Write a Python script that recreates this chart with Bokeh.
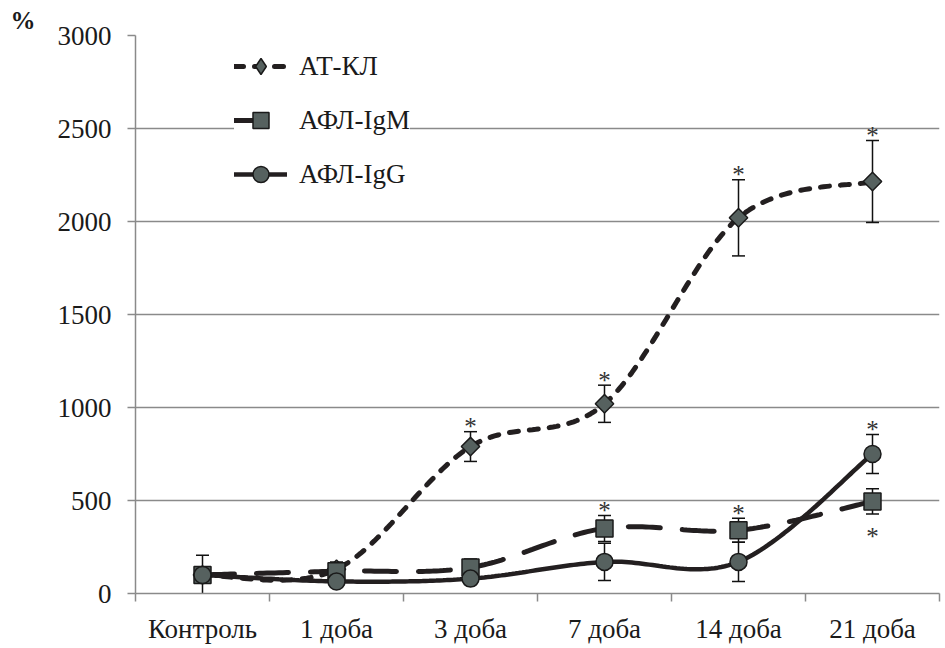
import numpy as np
from bokeh.plotting import figure
from bokeh.models import (Range1d, FixedTicker, ColumnDataSource, Legend, LegendItem)
from bokeh.core.properties import value
from bokeh.embed import file_html
from bokeh.resources import INLINE

categories = ["Контроль", "1 доба", "3 доба", "7 доба", "14 доба", "21 доба"]
at_kl = [100, 130, 790, 1020, 2020, 2215]
at_kl_err = [105, 30, 80, 100, 205, 220]
igm = [100, 120, 140, 350, 340, 495]
igm_err = [40, 50, 45, 70, 65, 68]
igg = [100, 65, 80, 170, 170, 750]
igg_err = [40, 20, 30, 100, 105, 105]
# significance stars: (category index, "above"/"below")
stars_at_kl = [(2, "above"), (3, "above"), (4, "above"), (5, "above")]
stars_igm = [(3, "above"), (4, "above"), (5, "below")]
stars_igg = [(5, "above")]
y_ticks = [0, 500, 1000, 1500, 2000, 2500, 3000]

FONT = "Liberation Serif"
LINE = "#231f20"
FILL = "#56615f"
AXIS = "#8a8a8a"
FS = "27px"

xs = [i + 0.5 for i in range(len(categories))]


def smooth(xv, yv, n=40):
    pts = np.column_stack([xv, yv]).astype(float)
    ext = np.vstack([pts[0], pts, pts[-1]])
    out = []
    for i in range(len(pts) - 1):
        p0, p1, p2, p3 = ext[i], ext[i + 1], ext[i + 2], ext[i + 3]
        c1 = p1 + (p2 - p0) / 6.0
        c2 = p2 - (p3 - p1) / 6.0
        t = np.linspace(0, 1, n)[:, None]
        seg = ((1 - t) ** 3) * p1 + 3 * ((1 - t) ** 2) * t * c1 + 3 * (1 - t) * t ** 2 * c2 + t ** 3 * p2
        out.append(seg if i == 0 else seg[1:])
    a = np.vstack(out)
    return a[:, 0], a[:, 1]


p = figure(width=941, height=646, output_backend="svg", toolbar_location=None,
           x_range=Range1d(0, 6), y_range=Range1d(0, 3000),
           min_border_left=135, min_border_right=2, min_border_top=35, min_border_bottom=51,
           title="%")
p.title.text_font = FONT
p.title.text_font_size = "25px"
p.title.text_font_style = "bold"
p.title.text_color = "#1a1a1a"
p.title.align = "left"
p.title.offset = -125
p.title.standoff = 3
p.outline_line_color = None
p.background_fill_color = "white"
p.xgrid.grid_line_color = None
p.ygrid.grid_line_color = AXIS
p.ygrid.grid_line_width = 1.5

p.xaxis.ticker = FixedTicker(ticks=xs, minor_ticks=list(range(len(categories) + 1)))
p.xaxis.major_label_overrides = {x: c for x, c in zip(xs, categories)}
p.xaxis.major_tick_line_color = None
p.xaxis.major_tick_in = 0
p.xaxis.major_tick_out = 8
p.xaxis.minor_tick_line_color = AXIS
p.xaxis.minor_tick_line_width = 1.5
p.xaxis.minor_tick_in = 0
p.xaxis.minor_tick_out = 8
p.xaxis.major_label_standoff = 12

p.yaxis.ticker = FixedTicker(ticks=y_ticks)
p.yaxis.minor_tick_line_color = None
p.yaxis.major_tick_line_color = AXIS
p.yaxis.major_tick_line_width = 1.5
p.yaxis.major_tick_in = 0
p.yaxis.major_tick_out = 8
p.yaxis.major_label_standoff = 16

for ax in (p.xaxis, p.yaxis):
    ax.axis_line_color = AXIS
    ax.axis_line_width = 1.5
    ax.major_label_text_font = FONT
    ax.major_label_text_font_size = FS
    ax.major_label_text_color = "#1a1a1a"

series = [
    ("АТ-КЛ", at_kl, at_kl_err, "9 11", 5, "square", 13, np.pi / 4, stars_at_kl),
    ("АФЛ-IgM", igm, igm_err, "32 22", 5, "square", 17, 0, stars_igm),
    ("АФЛ-IgG", igg, igg_err, "solid", 4.5, "circle", 17, 0, stars_igg),
]

line_rs = []
for name, vals, errs, dash, lw, marker, size, ang, stars in series:
    sx, sy = smooth(xs, vals)
    lr = p.line(sx, sy, line_color=LINE, line_width=lw, line_dash=dash, line_cap="round")
    line_rs.append(lr)

for name, vals, errs, dash, lw, marker, size, ang, stars in series:
    up = [v + e for v, e in zip(vals, errs)]
    lo = [v - e for v, e in zip(vals, errs)]
    p.segment(xs, lo, xs, up, line_color="#111111", line_width=1.5)
    p.scatter(xs + xs, up + lo, marker="dash", size=13, line_color="#111111", line_width=1.5)

items = []
for (name, vals, errs, dash, lw, marker, size, ang, stars), lr in zip(series, line_rs):
    sr = p.scatter(xs, vals, marker=marker, size=size, angle=ang, fill_color=FILL,
                   line_color="#1a1a1a", line_width=1.5)
    if ang:
        # legend-only diamond symbol (legend glyphs are never rotated); not drawn in plot
        leg_sym = p.scatter([np.nan], [np.nan], marker="diamond", size=size, fill_color=FILL,
                            line_color="#1a1a1a", line_width=1.5)
        items.append(LegendItem(label=name, renderers=[lr, leg_sym]))
    else:
        items.append(LegendItem(label=name, renderers=[lr, sr]))
    sx_ = [xs[i] for i, pos in stars]
    sy_ = [vals[i] + errs[i] if pos == "above" else vals[i] - errs[i] for i, pos in stars]
    off = [-5 if pos == "above" else 22 for i, pos in stars]
    src = ColumnDataSource(dict(x=sx_, y=sy_, off=off, t=["*"] * len(sx_)))
    p.text(x="x", y="y", text="t", y_offset="off", source=src, text_font=value(FONT),
           text_font_size="25px", text_color="#333333", text_align="center",
           text_baseline="middle")

legend = Legend(items=items, location=(99, 399), background_fill_color="white",
                background_fill_alpha=1.0, border_line_color=None,
                label_text_font=FONT, label_text_font_size=FS, label_text_color="#1a1a1a",
                glyph_width=53, glyph_height=40, label_height=40, spacing=14,
                label_standoff=12, padding=8, margin=0)
p.add_layout(legend, "center")

open("out.html", "w").write(file_html(p, INLINE))
